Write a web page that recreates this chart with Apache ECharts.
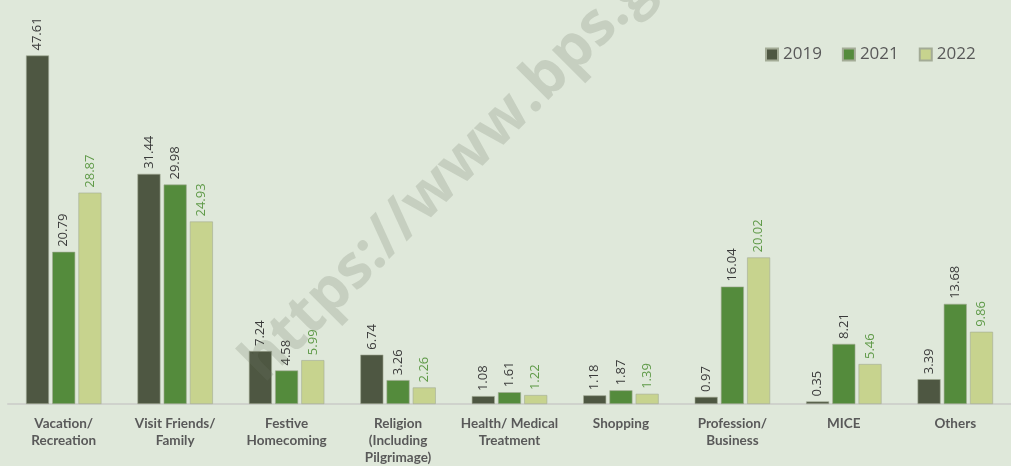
<!DOCTYPE html>
<html>
<head>
<meta charset="utf-8">
<script src="https://cdn.jsdelivr.net/npm/echarts@6/dist/echarts.min.js"></script>
<style>
  html, body { margin: 0; padding: 0; background: #dfe8da; }
  #chart { width: 1011px; height: 466px; }
</style>
</head>
<body>
<div id="chart"></div>
<script>
const categories = [
  'Vacation/\nRecreation', 'Visit Friends/\nFamily', 'Festive\nHomecoming',
  'Religion\n(Including\nPilgrimage)', 'Health/ Medical\nTreatment', 'Shopping',
  'Profession/\nBusiness', 'MICE', 'Others'
];
const years = ['2019', '2021', '2022'];
const data2019 = [47.61, 31.44, 7.24, 6.74, 1.08, 1.18, 0.97, 0.35, 3.39];
const data2021 = [20.79, 29.98, 4.58, 3.26, 1.61, 1.87, 16.04, 8.21, 13.68];
const data2022 = [28.87, 24.93, 5.99, 2.26, 1.22, 1.39, 20.02, 5.46, 9.86];

const colors = ['#4e5742', '#548b3c', '#c7d38e'];
const labelColors = ['#3a3a3a', '#3a3a3a', '#5f9a48'];

const myChart = echarts.init(document.getElementById('chart'));

function makeSeries(name, data, i) {
  return {
    name: name,
    type: 'bar',
    data: data,
    barWidth: 23,
    barGap: '14%',
    itemStyle: { color: colors[i], borderColor: '#a3ab96', borderWidth: 0.6 },
    label: {
      show: true,
      position: 'top',
      rotate: 90,
      align: 'left',
      verticalAlign: 'middle',
      distance: 5,
      color: labelColors[i],
      fontSize: 13,
      fontFamily: 'Open Sans',
      formatter: (p) => p.value.toFixed(2)
    }
  };
}

const option = {
  backgroundColor: '#dfe8da',
  animation: false,
  legend: {
    data: years,
    left: 760,
    top: 41,
    itemWidth: 12,
    itemHeight: 12,
    itemGap: 20,
    icon: 'rect',
    textStyle: { color: '#595959', fontSize: 17, fontFamily: 'Open Sans' }
  },
  grid: { left: 8, right: -2, top: 38, bottom: 58 },
  xAxis: {
    type: 'category',
    data: categories,
    axisLine: { lineStyle: { color: '#cfd2cc', width: 2 } },
    axisTick: { show: false },
    axisLabel: {
      interval: 0,
      color: '#595959',
      fontWeight: 'bold',
      fontSize: 13.5,
      fontFamily: 'Lato',
      lineHeight: 17,
      margin: 11
    }
  },
  yAxis: {
    type: 'value',
    min: 0,
    max: 50,
    show: false,
    splitLine: { show: false }
  },
  // watermark
  graphic: [{
    type: 'text',
    x: 252,
    y: 372,
    rotation: 45 * Math.PI / 180,
    z: 100,
    style: {
      text: 'https://www.bps.go.id',
      fill: 'rgba(110,120,100,0.22)',
      fontSize: 60,
      fontWeight: 'bold',
      fontFamily: 'Open Sans',
      textAlign: 'left',
      textVerticalAlign: 'middle'
    }
  }],
  series: [
    makeSeries('2019', data2019, 0),
    makeSeries('2021', data2021, 1),
    makeSeries('2022', data2022, 2)
  ]
};

myChart.setOption(option);
</script>
</body>
</html>
